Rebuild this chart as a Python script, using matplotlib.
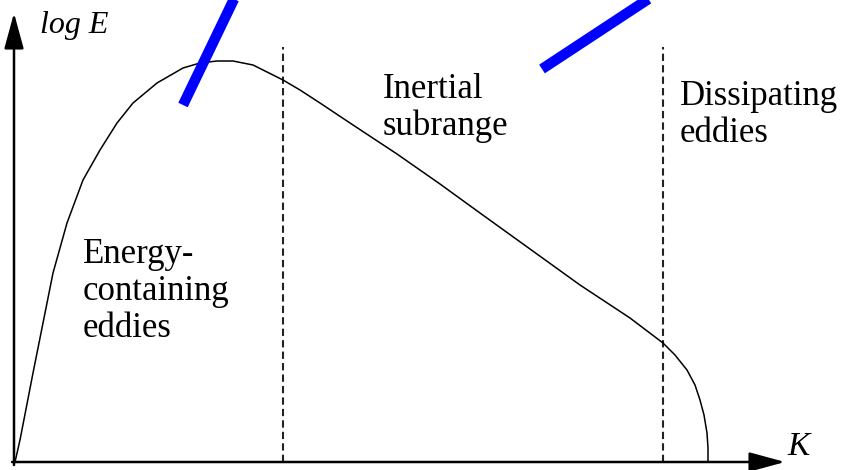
import numpy as np
import matplotlib
matplotlib.use('Agg')
from matplotlib import pyplot as plt

# Schematic energy spectrum, coordinates measured from the axis corner
k = [1, 6, 19, 29, 39, 53, 69, 86, 103, 119, 143, 169, 186, 203, 219, 239, 253,
     269, 286, 306, 336, 383, 426, 466, 516, 566, 616, 649, 661, 673, 681, 686,
     690, 693, 694, 694]
log_e = [0, 22, 89, 139, 189, 239, 282, 312, 339, 359, 379, 394, 399, 401, 401,
         397, 390, 382, 372, 359, 339, 308, 278, 249, 213, 177, 144, 119, 107, 92,
         77, 62, 47, 29, 14, 0]

# Region boundaries (dashed) and their height
k_bounds = [269, 649]
bound_top = 415

# Region labels: (k, baseline of first line, lines)
labels = [
    (69, 199, ['Energy-', 'containing', 'eddies']),
    (369, 364, ['Inertial', 'subrange']),
    (666, 357, ['Dissipating', 'eddies']),
]
line_step = 37

# Blue strokes: start and end points
strokes = [((169, 357), (221, 465)), ((528, 393), (645, 470))]

plt.rcParams['font.family'] = ['Liberation Serif', 'DejaVu Serif']

fig = plt.figure(figsize=(8.43, 4.70), dpi=100)
ax = fig.add_axes([0, 0, 1, 1])
ax.set_xlim(-14, 829)
ax.set_ylim(-8, 462)
ax.axis('off')

# Spectrum curve
ax.plot(k, log_e, color='black', lw=1.1, solid_joinstyle='round', zorder=3)

# Region boundaries
for kb in k_bounds:
    ax.plot([kb, kb], [0, bound_top], color='#222222', lw=1.5,
            linestyle=(0, (3.5, 2)), zorder=2)

# Axes with arrows
arrow = dict(arrowstyle='-|>,head_length=1.1,head_width=0.3', lw=1.8,
             color='black', mutation_scale=20, shrinkA=0, shrinkB=0)
ax.annotate('', xy=(0, 449), xytext=(0, -3), arrowprops=arrow)
ax.annotate('', xy=(771, 0), xytext=(-2, 0), arrowprops=arrow)
ax.text(26, 429, 'log E', fontsize=23, style='italic', va='baseline')
ax.text(773, 7, 'K', fontsize=24, style='italic', va='baseline')

# Region labels
for x0, y0, lines in labels:
    for i, line in enumerate(lines):
        ax.text(x0, y0 - i * line_step, line, fontsize=25, va='baseline')

# Blue strokes
for (x1, y1), (x2, y2) in strokes:
    ax.plot([x1, x2], [y1, y2], color='#0000ff', lw=7.5, solid_capstyle='butt',
            zorder=5, clip_on=False)

fig.savefig('out.png', dpi=100)
